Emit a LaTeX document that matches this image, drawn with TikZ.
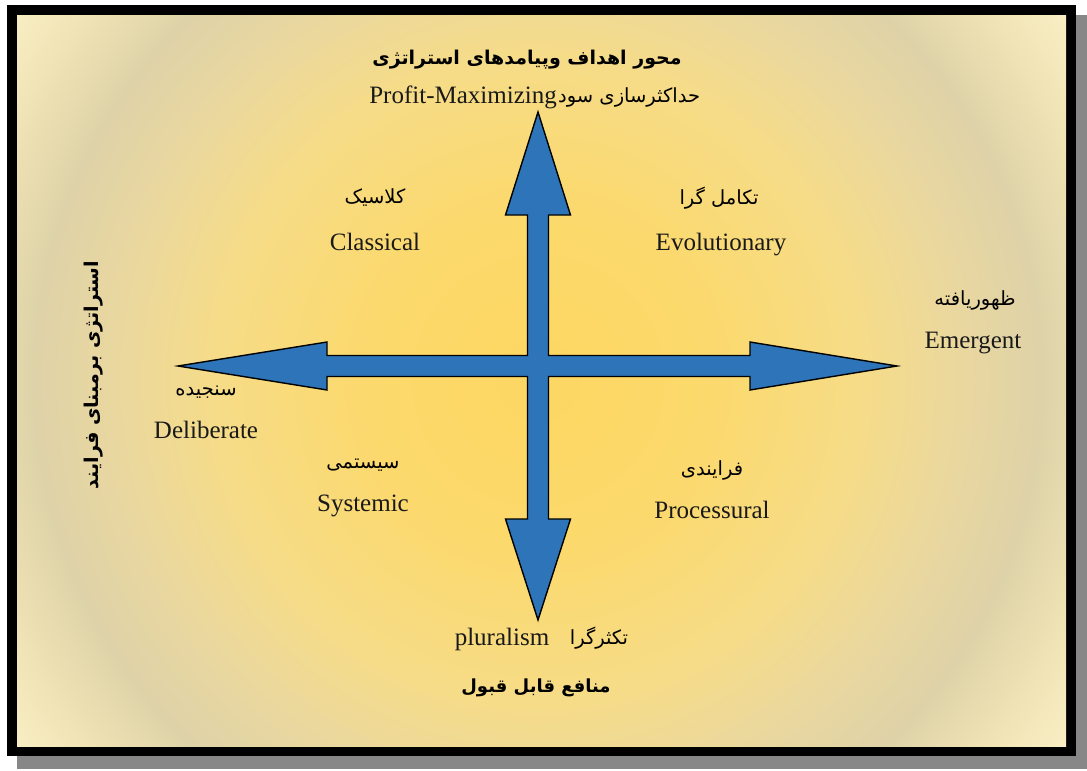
\documentclass[tikz,border=0pt]{standalone}
\usepackage{fontspec}
\setmainfont{Liberation Serif}
\newfontfamily\fa[Script=Arabic]{DejaVu Sans}
\TeXXeTstate=1

% colours of the panel
\definecolor{gA}{RGB}{253,215,98}
\definecolor{gB}{RGB}{252,217,108}
\definecolor{gC}{RGB}{246,220,136}
\definecolor{gD}{RGB}{233,215,160}
\definecolor{gE}{RGB}{222,210,168}
\definecolor{gF}{RGB}{240,228,182}
\definecolor{gG}{RGB}{249,238,196}
\definecolor{arrowblue}{RGB}{46,116,184}
\definecolor{shadowgrey}{RGB}{135,135,135}

\pgfdeclareradialshading{panelglow}{\pgfpoint{0bp}{0bp}}{%
  color(0bp)=(gA); color(6bp)=(gB); color(11.5bp)=(gC);
  color(15.3bp)=(gD); color(18bp)=(gE); color(20.7bp)=(gF);
  color(22.9bp)=(gG); color(25bp)=(gG); color(50bp)=(gG)}

\tikzset{
  lat/.style={inner sep=0pt, anchor=base, font=\fontsize{25}{30}\selectfont, text=black!90},
  fatxt/.style={inner sep=0pt, font=\fa\fontsize{19.5}{24}\selectfont, text=black},
  fatitle/.style={inner sep=0pt, font=\fa\bfseries\fontsize{19}{24}\selectfont, text=black},
}

\begin{document}
\begin{tikzpicture}[x=1pt,y=-1pt]
\useasboundingbox (0,0) rectangle (1087,771);

% drop shadow, black frame and glowing panel
\fill[shadowgrey] (17,15) rectangle (1087,769);
\fill[black] (7,5) rectangle (1076,756);
\begin{scope}
  \clip (17,15) rectangle (1066,746);
  \shade[shading=panelglow] (538,380) circle[radius=700];
\end{scope}

% the four-headed arrow cross
\filldraw[fill=arrowblue, draw=black, line width=1.4pt, line join=miter]
  (538,112) -- (570.5,215) -- (548.5,215) -- (548.5,355.5) -- (750,355.5)
  -- (750,342) -- (897,366) -- (750,390) -- (750,376.5) -- (548.5,376.5)
  -- (548.5,519) -- (570.5,519) -- (538,620) -- (505.5,519) -- (527.5,519)
  -- (527.5,376.5) -- (327,376.5) -- (327,390) -- (178,366) -- (327,342)
  -- (327,355.5) -- (527.5,355.5) -- (527.5,215) -- (505.5,215) -- cycle;

% axis titles
\node[fatitle] (toptitle) at (527,60) {\beginR محور اهداف وپیامدهای استراتژی\endR};
\node[fatitle, font=\fa\bfseries\fontsize{18}{24}\selectfont] (bottitle) at (536,688) {\beginR منافع قابل قبول\endR};
\node[fatitle, rotate=90] (lefttitle) at (94,375) {\beginR استراتژی برمبنای فرایند\endR};

% axis ends
\node[lat, anchor=base east] (profit) at (557,103) {Profit-Maximizing};
\node[fatxt, anchor=west] (profitfa) at (558,97) {\beginR حداکثرسازی سود\endR};
\node[lat] (plural) at (502,645) {pluralism};
\node[fatxt] (pluralfa) at (599,638) {\beginR تکثرگرا\endR};
\node[fatxt] (emergfa) at (975,300) {\beginR ظهوریافته\endR};
\node[lat] (emerg) at (973,348) {Emergent};
\node[fatxt] (delibfa) at (206,392) {\beginR سنجیده\endR};
\node[lat] (delib) at (206,438) {Deliberate};

% quadrant labels
\node[fatxt] (classfa) at (375,198) {\beginR کلاسیک\endR};
\node[lat] (class) at (375,250) {Classical};
\node[fatxt] (evolfa) at (719,198) {\beginR تکامل گرا\endR};
\node[lat] (evol) at (721,250) {Evolutionary};
\node[fatxt] (sysfa) at (363,465) {\beginR سیستمی\endR};
\node[lat] (sys) at (363,511) {Systemic};
\node[fatxt] (procfa) at (712,470) {\beginR فرایندی\endR};
\node[lat] (proc) at (712,518) {Processural};
\end{tikzpicture}
\end{document}
